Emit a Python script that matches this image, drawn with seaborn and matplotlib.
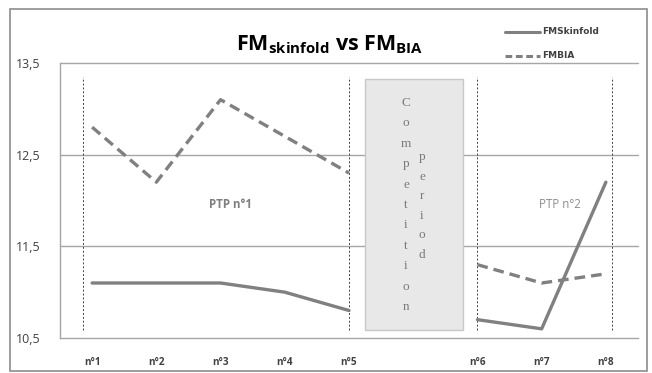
import numpy as np
import pandas as pd
import matplotlib
matplotlib.use("Agg")
import matplotlib.pyplot as plt
from matplotlib.lines import Line2D
from matplotlib.patches import Rectangle
import seaborn as sns

# Measurement sessions (slot 6 is the competition period, no measurement)
categories = ["n°1", "n°2", "n°3", "n°4", "n°5", "", "n°6", "n°7", "n°8"]
phase = ["PTP1", "PTP1", "PTP1", "PTP1", "PTP1", None, "PTP2", "PTP2", "PTP2"]
fm_skinfold = [11.1, 11.1, 11.1, 11.0, 10.8, np.nan, 10.7, 10.6, 12.2]
fm_bia = [12.8, 12.2, 13.1, 12.7, 12.3, np.nan, 11.3, 11.1, 11.2]
y_ticks = [10.5, 11.5, 12.5, 13.5]

sns.set_theme(style="white")
plt.rcParams["font.family"] = ["Open Sans", "DejaVu Sans"]
plt.rcParams["mathtext.fontset"] = "custom"
plt.rcParams["mathtext.bf"] = "Open Sans:bold"
plt.rcParams["mathtext.rm"] = "Open Sans"

W, H = 652, 373
fig = plt.figure(figsize=(W / 100, H / 100), dpi=100)
fig.patch.set_facecolor("white")


def fx(px):
    return px / W


def fy(py):
    return 1 - py / H


ax = fig.add_axes([fx(60), fy(338), fx(638) - fx(60), fy(63) - fy(338)])

rows = []
for i, (c, p, s, b) in enumerate(zip(categories, phase, fm_skinfold, fm_bia)):
    if p is None:
        continue
    rows.append({"pos": i, "value": s, "series": "FMSkinfold", "phase": p})
    rows.append({"pos": i, "value": b, "series": "FMBIA", "phase": p})
df = pd.DataFrame(rows)

line_col = "#808080"
sns.lineplot(data=df, x="pos", y="value", style="series", units="phase",
             estimator=None, color=line_col, linewidth=2.4,
             dashes={"FMSkinfold": "", "FMBIA": (3.2, 1.8)},
             legend=False, ax=ax, zorder=4)

ax.set_xlim(-0.5, len(categories) - 0.5)
ax.set_ylim(10.5, 13.5)
ax.set_xlabel("")
ax.set_ylabel("")

# gridlines
for yv in y_ticks[1:]:
    ax.axhline(yv, color="#a6a6a6", lw=1.0, zorder=1, clip_on=False)

ax.set_yticks(y_ticks)
ax.set_yticklabels([f"{v:.1f}".replace(".", ",") for v in y_ticks],
                   fontsize=9, color="#404040")
ax.set_xticks(range(len(categories)))
ax.set_xticklabels(categories, fontsize=7.2, fontweight="bold", color="#404040")
ax.set_xticks(np.arange(-0.5, len(categories)), minor=True)
ax.tick_params(axis="x", which="major", length=0, pad=14)
ax.tick_params(axis="x", which="minor", length=4, color="#a6a6a6", width=1,
               direction="out")
ax.tick_params(axis="y", length=5, color="#a6a6a6", width=1, direction="out",
               pad=9)

for side in ["top", "right"]:
    ax.spines[side].set_visible(False)
for side in ["left", "bottom"]:
    ax.spines[side].set_color("#a6a6a6")
    ax.spines[side].set_linewidth(1.0)

# dotted phase separators
for xv in [-0.14, 4.0, 6.0, 8.1]:
    ax.plot([xv, xv], [10.59, 13.35], color="#404040", lw=0.7,
            linestyle=(0, (2, 2)), zorder=2)

# competition period box
ax.add_patch(Rectangle((4.25, 10.59), 1.53, 2.74, facecolor="#e8e8e8",
                       edgecolor="#c8c8c8", lw=1.0, zorder=3))

word1 = "Competition"
word2 = "period"
for k, ch in enumerate(word1):
    fig.text(fx(406), fy(103 + 20.4 * k), ch, ha="center", va="center",
             fontsize=9.5, color="#7a7a7a", family="Liberation Serif")
for k, ch in enumerate(word2):
    fig.text(fx(422), fy(157 + 19.6 * k), ch, ha="center", va="center",
             fontsize=9.5, color="#7a7a7a", family="Liberation Serif")

# phase labels
fig.text(fx(230), fy(205), "PTP n°1", ha="center", va="center", fontsize=8.3,
         fontweight="bold", color="#7f7f7f")
fig.text(fx(560), fy(205), "PTP n°2", ha="center", va="center", fontsize=8.3,
         color="#8c8c8c")

# title
fig.text(fx(330), fy(50), r"$\mathbf{FM_{skinfold}}$ vs $\mathbf{FM_{BIA}}$",
         ha="center", va="baseline", fontsize=15.5, fontweight="bold",
         color="black")

# legend
fig.add_artist(Line2D([fx(505), fx(540)], [fy(32), fy(32)], color=line_col,
                      lw=2.2))
fig.add_artist(Line2D([fx(505), fx(540)], [fy(56), fy(56)], color=line_col,
                      lw=2.2, dashes=(2.2, 1.2)))
fig.text(fx(542), fy(32), "FMSkinfold", ha="left", va="center", fontsize=6.5,
         fontweight="bold", color="#404040", family="Liberation Sans Narrow")
fig.text(fx(542), fy(56), "FMBIA", ha="left", va="center", fontsize=6.5,
         fontweight="bold", color="#404040", family="Liberation Sans Narrow")

# chart border
fig.add_artist(Rectangle((fx(10), fy(371)), fx(647) - fx(10), fy(9) - fy(371),
                         fill=False, edgecolor="#8c8c8c", lw=1.2))

fig.savefig("out.png", dpi=100)
